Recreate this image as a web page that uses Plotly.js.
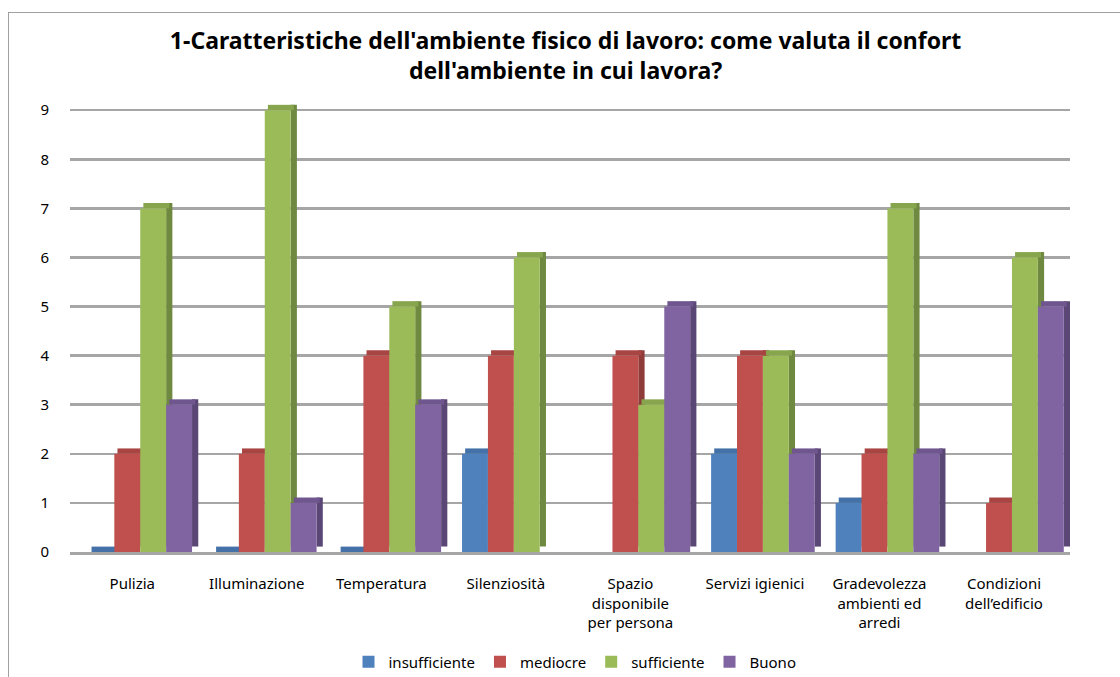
<!DOCTYPE html>
<html>
<head>
<meta charset="utf-8">
<script src="https://cdn.plot.ly/plotly-3.0.1.min.js"></script>
<style>
  html, body { margin: 0; padding: 0; background: #fff; }
  #wrap { position: relative; width: 1120px; height: 677px; overflow: hidden; }
  #chart { width: 1120px; height: 677px; }
  #frame { position: absolute; left: 8px; top: 12px; width: 1120px; height: 700px;
           border-left: 1px solid #a0a0a0; border-top: 1px solid #a0a0a0; pointer-events: none; }
</style>
</head>
<body>
<div id="wrap">
  <div id="chart"></div>
  <div id="frame"></div>
</div>
<script>
const categories = [
  "Pulizia",
  "Illuminazione",
  "Temperatura",
  "Silenziosità",
  "Spazio<br>disponibile<br>per persona",
  "Servizi igienici",
  "Gradevolezza<br>ambienti ed<br>arredi",
  "Condizioni<br>dell’edificio"
];
const seriesNames = ["insufficiente", "mediocre", "sufficiente", "Buono"];
const insufficiente = [0, 0, 0, 2, null, 2, 1, null];
const mediocre      = [2, 2, 4, 4, 4, 4, 2, 1];
const sufficiente   = [7, 9, 5, 6, 3, 4, 7, 6];
const buono         = [3, 1, 3, null, 5, 2, 2, 5];
const yTicks = [0, 1, 2, 3, 4, 5, 6, 7, 8, 9];

const colors     = ["#4F81BD", "#C0504D", "#9BBB59", "#8064A2"];
const sideColors = ["#3A5F8C", "#8E3B39", "#6F8940", "#5B4775"];
const topColors  = ["#4472A8", "#A84542", "#87A54C", "#6F568F"];
const values = [insufficiente, mediocre, sufficiente, buono];

// bar geometry in category units
const barW = 0.208, sideW = 0.05, depth = 0.11;
const offsets = [-0.352, -0.144, 0.064, 0.272];

const sideTraces = values.map((v, i) => ({
  type: "bar", x: categories,
  y: v.map(d => (d === null || d === 0) ? null : d),
  base: depth,
  offset: offsets[i] + barW, width: sideW,
  marker: { color: sideColors[i] },
  showlegend: false, hoverinfo: "skip"
}));
const topTraces = values.map((v, i) => ({
  type: "bar", x: categories,
  y: v.map(d => d === null ? null : depth),
  base: v.map(d => d === null ? null : d),
  offset: offsets[i] + sideW / 2, width: barW,
  marker: { color: topColors[i] },
  showlegend: false, hoverinfo: "skip"
}));
const mainTraces = values.map((v, i) => ({
  type: "bar",
  name: seriesNames[i],
  x: categories,
  y: v,
  offset: offsets[i], width: barW,
  marker: { color: colors[i] },
  hoverinfo: "x+y+name"
}));

const layout = {
  width: 1120,
  height: 677,
  paper_bgcolor: "#ffffff",
  plot_bgcolor: "#ffffff",
  font: { family: "Noto Sans, Open Sans, DejaVu Sans, sans-serif", size: 13, color: "#000" },
  margin: { l: 70, r: 50, t: 95, b: 125 },
  barmode: "overlay",
  title: {
    text: "<b>1-Caratteristiche dell'ambiente fisico di lavoro: come valuta il confort<br>dell'ambiente in cui lavora?</b>",
    font: { size: 23, color: "#000", family: "Noto Sans, Open Sans, sans-serif" },
    x: 0.505, xref: "container", xanchor: "center",
    y: 0.928, yref: "container", yanchor: "top"
  },
  xaxis: {
    type: "category",
    showgrid: false,
    showline: true,
    linecolor: "#a6a6a6",
    linewidth: 3,
    ticks: "",
    ticklabelstandoff: 16,
    tickfont: { size: 15 }
  },
  yaxis: {
    range: [0, 9.31],
    tickvals: yTicks,
    ticktext: yTicks.map(String),
    showgrid: true,
    gridcolor: "#a6a6a6",
    gridwidth: 2.5,
    zeroline: false,
    showline: false,
    ticks: "",
    ticklabelstandoff: 20,
    tickfont: { size: 15 }
  },
  legend: {
    orientation: "h",
    x: 0.505, xanchor: "center",
    y: 0.022, yref: "container", yanchor: "middle",
    font: { size: 15 },
    traceorder: "normal"
  },
  showlegend: true
};

Plotly.newPlot("chart", [...sideTraces, ...topTraces, ...mainTraces], layout,
  { displayModeBar: false, staticPlot: true });
</script>
</body>
</html>
